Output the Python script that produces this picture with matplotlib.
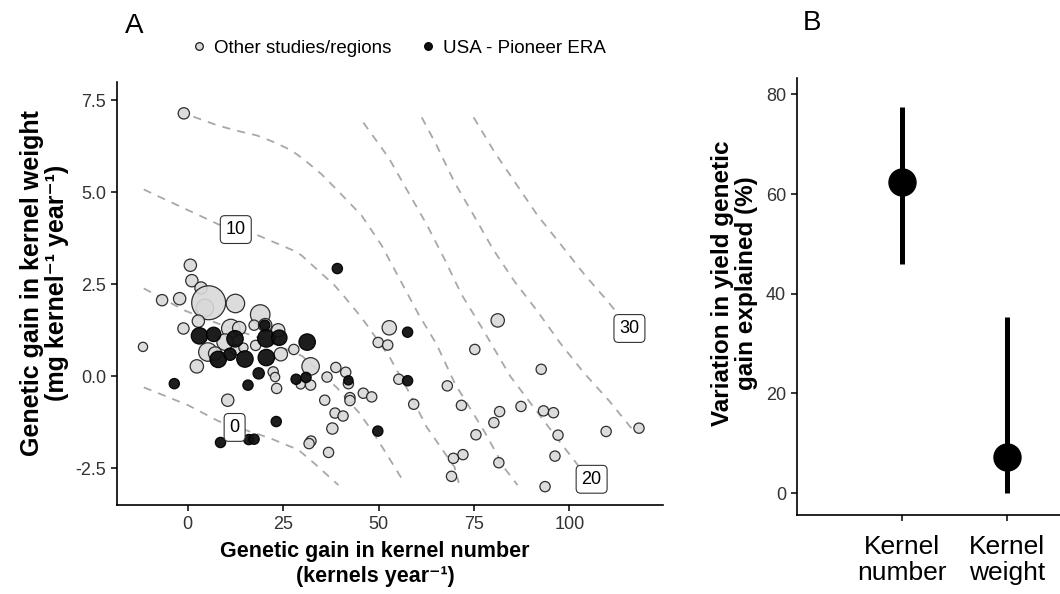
import matplotlib
matplotlib.use('Agg')
import matplotlib.pyplot as plt
from matplotlib.lines import Line2D

plt.rcParams['font.family'] = ['Liberation Sans', 'DejaVu Sans']
plt.rcParams['axes.unicode_minus'] = False

# ---- panel A data ----
# other studies / regions: kernel number gain, kernel weight gain, marker size
other_kn = [-1.0, 0.7, 1.1, 3.5, -6.7, -2.1, 4.5, 5.5, 12.5, 19.0, -1.1, 2.8, -11.7,
            11.3, 13.5, 17.4, 20.3, 23.7, 9.8, 5.3, 7.2, 12.6, 14.6, 17.8, 24.4, 27.8,
            2.4, 22.4, 22.9, 23.3, 10.5, 29.6, 32.2, 32.2, 36.5, 38.8, 41.4, 42.1,
            42.5, 42.5, 46.0, 48.2, 35.9, 38.6, 40.7, 37.9, 32.3, 31.8, 36.9, 52.8,
            49.9, 52.4, 55.3, 59.2, 68.0, 71.7, 75.2, 75.5, 72.1, 69.6, 69.1, 81.2,
            92.6, 81.7, 80.2, 87.3, 93.2, 95.8, 97.0, 109.6, 118.2, 96.2, 81.5, 93.6]
other_kw = [7.15, 3.02, 2.6, 2.4, 2.07, 2.11, 1.86, 2.0, 1.98, 1.68, 1.3, 1.5, 0.8,
            1.3, 1.31, 1.39, 1.39, 1.25, 0.93, 0.66, 0.62, 0.72, 0.78, 0.84, 0.6, 0.73,
            0.27, 0.12, -0.02, -0.33, -0.65, -0.22, 0.27, -0.24, -0.02, 0.24, 0.11, -0.2,
            -0.58, -0.66, -0.46, -0.56, -0.65, -1.0, -1.08, -1.42, -1.76, -1.83, -2.07, 1.32,
            0.92, 0.85, -0.08, -0.76, -0.26, -0.79, 0.73, -1.59, -2.13, -2.23, -2.72, 1.52,
            0.19, -0.96, -1.26, -0.82, -0.94, -0.99, -1.6, -1.5, -1.41, -2.17, -2.35, -3.0]
other_w = [11, 12, 12, 12, 11, 12, 17, 33, 18, 19, 11, 12, 9,
           18, 13, 10, 13, 13, 16, 18, 13, 10, 9, 10, 13, 10,
           13, 10, 9, 10, 12, 9, 17, 10, 10, 10, 10, 10,
           10, 10, 10, 10, 10, 10, 10, 11, 10, 10, 10, 14,
           10, 10, 10, 10, 10, 10, 10, 10, 10, 10, 10, 13,
           10, 10, 10, 10, 10, 10, 10, 10, 10, 10, 10, 10]

# USA - Pioneer ERA
era_kn = [39.2, 3.1, 6.8, 12.4, 20.2, 20.6, 24.0, 31.3, 8.0, 11.1, 15.0, 20.6, 18.6,
          28.4, 31.0, 42.1, 57.6, 57.6, -3.5, 15.8, 23.2, 49.8, 8.6, 16.0, 17.4]
era_kw = [2.93, 1.1, 1.14, 1.02, 1.39, 1.03, 1.05, 0.93, 0.46, 0.6, 0.47, 0.51, 0.08,
          -0.08, -0.03, -0.11, 1.2, -0.12, -0.2, -0.24, -1.23, -1.49, -1.8, -1.72, -1.71]
era_w = [10, 16, 14, 16, 10, 17, 15, 16, 16, 12, 16, 16, 11,
         10, 10, 9, 10, 10, 10, 10, 10, 10, 10, 10, 10]

# iso-lines of yield genetic gain
iso_levels = [0, 5, 10, 15, 20, 25, 30]
iso_kn = [
    [-11.5, 0, 8.1, 16.8, 21.5, 29, 33.2, 39.5],
    [-11.5, -0.8, 10, 20, 30, 39, 44.8, 48.2, 51.3, 56],
    [-11.5, 8.1, 17.8, 27.7, 29.8, 38.5, 41, 45.5, 47.4, 52.9, 57.8, 62.6, 69.9, 71],
    [1.5, 7.9, 12.8, 18.1, 22.8, 27.2, 30.4, 35, 39, 45.5, 50.8, 56, 60.5, 65.2, 70, 77.7, 83, 86.4],
    [46, 52.6, 57.8, 62.6, 67.3, 71.7, 77, 84.5, 90.6, 96.5, 102.6, 105.8],
    [61.3, 65.2, 69.9, 74.9, 80, 85.6, 91.6, 97.6, 103.9, 110.5, 117.3],
    [74.9, 80.4, 86.1, 91.6, 97.9, 103.9, 110, 115.7],
]
iso_kw = [
    [-0.3, -0.78, -1.22, -1.52, -1.68, -2.0, -2.37, -2.96],
    [2.39, 1.79, 1.35, 1.0, 0.55, -0.3, -0.98, -1.47, -1.98, -2.77],
    [5.08, 4.13, 3.86, 3.42, 3.29, 2.47, 2.17, 1.6, 1.33, 0.52, -0.4, -1.38, -2.47, -2.9],
    [7.06, 6.82, 6.68, 6.55, 6.36, 6.14, 5.9, 5.5, 5.08, 4.38, 3.56, 2.55, 1.68, 0.87, -0.2, -1.5, -2.5, -2.96],
    [6.9, 5.95, 5.0, 4.13, 3.18, 2.23, 1.33, 0.0, -0.84, -1.65, -2.47, -2.8],
    [7.04, 6.28, 5.27, 4.38, 3.45, 2.58, 1.77, 0.9, 0.08, -0.68, -1.55],
    [7.04, 6.09, 5.22, 4.38, 3.56, 2.77, 2.04, 1.3],
]
iso_label_vals = [0, 10, 20, 30]
iso_label_kn = [12.3, 12.6, 105.8, 115.7]
iso_label_kw = [-1.39, 3.99, -2.8, 1.3]

# ---- panel B data ----
comp_names = ['Kernel\nnumber', 'Kernel\nweight']
comp_mid = [62.5, 7.3]
comp_lo = [46.0, 0.0]
comp_hi = [77.5, 35.3]

fig = plt.figure(figsize=(10.6, 5.94), dpi=100)

# ---------------- panel A ----------------
axA = fig.add_axes([0.1104, 0.1498, 0.5151, 0.712])
for kn, kw in zip(iso_kn, iso_kw):
    axA.plot(kn, kw, color='#a8a8a8', lw=1.3, dashes=(4.5, 4), zorder=1)

axA.scatter(other_kn, other_kw, s=[(w * 0.74) ** 2 for w in other_w],
            facecolor='#d9d9d9', edgecolor='#1a1a1a', linewidth=0.9, alpha=0.9, zorder=2)
axA.scatter(era_kn, era_kw, s=[(w * 0.74) ** 2 for w in era_w],
            facecolor='#111111', edgecolor='#000000', linewidth=0.9, alpha=0.95, zorder=2)

for v, x, y in zip(iso_label_vals, iso_label_kn, iso_label_kw):
    axA.text(x, y, str(v), ha='center', va='center', fontsize=13, zorder=4,
             bbox=dict(boxstyle='round,pad=0.3,rounding_size=0.25', fc='white', ec='#333333', lw=0.8))

axA.set_xlim(-18.5, 124.5)
axA.set_ylim(-3.5, 8.0)
axA.set_xticks([0, 25, 50, 75, 100])
axA.set_yticks([-2.5, 0, 2.5, 5.0, 7.5])
axA.set_yticklabels(['-2.5', '0.0', '2.5', '5.0', '7.5'])

# ---------------- panel B ----------------
axB = fig.add_axes([0.7519, 0.133, 0.2481, 0.7357])
pos = [1, 2]
axB.vlines(pos, comp_lo, comp_hi, color='black', lw=3.6, zorder=1)
axB.scatter(pos, comp_mid, s=(27 * 0.72) ** 2, color='black', zorder=2)
axB.set_xlim(0, 2.5)
axB.set_ylim(-4.4, 83.3)
axB.set_yticks([0, 20, 40, 60, 80])
axB.set_xticks(pos)
axB.set_xticklabels(comp_names, linespacing=1.1)

for ax in (axA, axB):
    for s in ('top', 'right'):
        ax.spines[s].set_visible(False)
    for s in ('left', 'bottom'):
        ax.spines[s].set_linewidth(1.2)
    ax.tick_params(length=4.5, width=1.1, color='black', labelsize=13, labelcolor='#333333')
axB.tick_params(axis='x', labelsize=19, labelcolor='black', pad=10)

# axis titles
fig.text(0.354, 0.050, 'Genetic gain in kernel number\n(kernels year⁻¹)', ha='center', va='center',
         fontsize=15.5, fontweight='bold', linespacing=1.25)
fig.text(0.042, 0.523, 'Genetic gain in kernel weight\n(mg kernel⁻¹ year⁻¹)', ha='center', va='center',
         rotation=90, fontsize=18, fontweight='bold', linespacing=1.1)
fig.text(0.693, 0.523, 'Variation in yield genetic\ngain explained (%)', ha='center', va='center',
         rotation=90, fontsize=17.5, fontweight='bold', linespacing=1.1)

# panel letters
fig.text(0.127, 0.956, 'A', ha='center', va='center', fontsize=20)
fig.text(0.766, 0.962, 'B', ha='center', va='center', fontsize=20)

handles = [Line2D([], [], ls='', marker='o', ms=5.5, mfc='#d9d9d9', mec='#1a1a1a', mew=0.9),
           Line2D([], [], ls='', marker='o', ms=5.5, mfc='#111111', mec='#000000', mew=0.9)]
fig.legend(handles, ['Other studies/regions', 'USA - Pioneer ERA'], ncol=2, loc='center',
           bbox_to_anchor=(0.376, 0.919), frameon=False, fontsize=13.5, handletextpad=0.4,
           columnspacing=1.57, handlelength=0.8)

fig.savefig('out.png', dpi=100)
